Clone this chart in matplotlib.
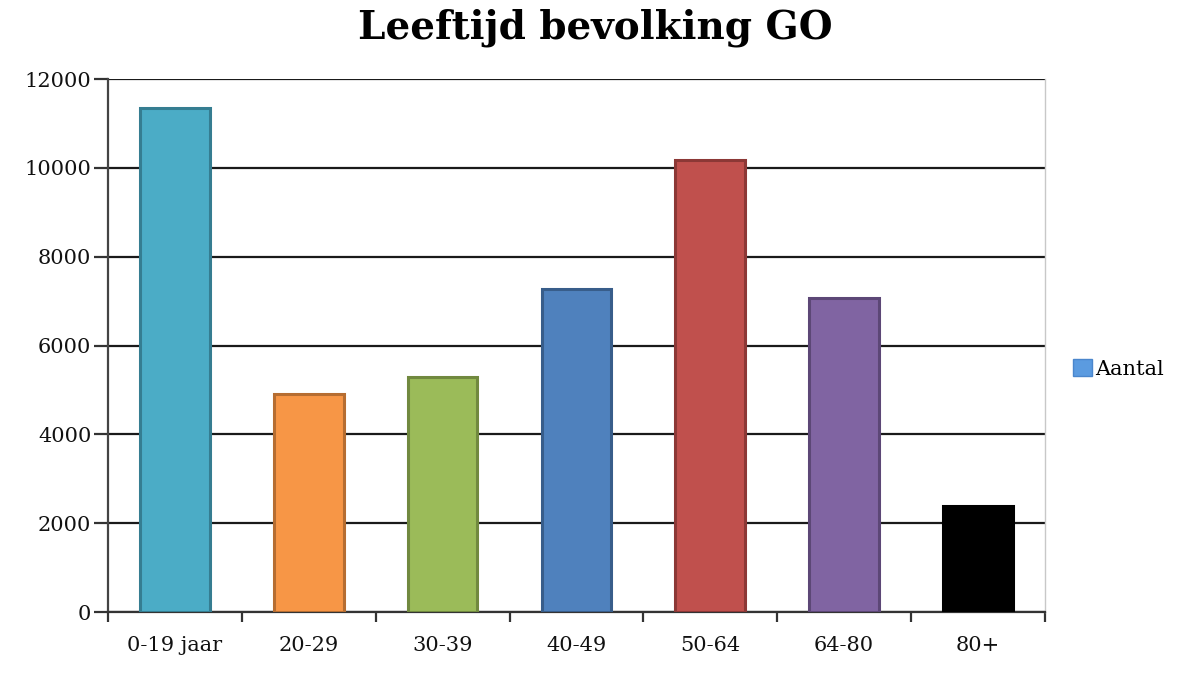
import matplotlib
matplotlib.use("Agg")
import matplotlib.pyplot as plt
from matplotlib.patches import Patch

# data
groups = ["0-19 jaar", "20-29", "30-39", "40-49", "50-64", "64-80", "80+"]
aantal = [11350, 4900, 5300, 7280, 10180, 7070, 2400]
fills = ["#4bacc6", "#f79646", "#9bbb59", "#4f81bd", "#c0504d", "#8064a2", "#000000"]
edges = ["#357d91", "#b66d31", "#71893f", "#385d8a", "#8c3836", "#5c4776", "#000000"]
yticks = [0, 2000, 4000, 6000, 8000, 10000, 12000]

plt.rcParams["font.family"] = ["DejaVu Serif"]

fig = plt.figure(figsize=(11.9, 6.84), dpi=100)
ax = fig.add_axes([0.0908, 0.105, 0.7872, 0.7795])

x = list(range(len(groups)))
ax.bar(x, aantal, width=0.52, color=fills, edgecolor=edges, linewidth=2.2, zorder=3)

ax.set_xlim(-0.5, len(groups) - 0.5)
ax.set_ylim(0, 12000)
ax.set_yticks(yticks)
ax.set_yticklabels([str(v) for v in yticks], fontsize=15, color="#111111")
ax.yaxis.grid(True, color="#1a1a1a", linewidth=1.6, zorder=0)
ax.set_axisbelow(True)

# category labels centred, ticks on the boundaries
ax.set_xticks(x)
ax.set_xticklabels(groups, fontsize=15, color="#111111")
ax.tick_params(axis="x", which="major", length=0, pad=17)
ax.set_xticks([i - 0.5 for i in range(len(groups) + 1)], minor=True)
ax.tick_params(axis="x", which="minor", length=7, width=1.6, color="#333333")
ax.tick_params(axis="y", length=10, width=1.6, color="#333333", pad=2)

ax.spines["top"].set_visible(False)
ax.spines["right"].set_color("#c8c8c8")
ax.spines["right"].set_linewidth(1.0)
ax.spines["left"].set_color("#444444")
ax.spines["left"].set_linewidth(1.6)
ax.spines["bottom"].set_color("#333333")
ax.spines["bottom"].set_linewidth(1.6)

fig.suptitle("Leeftijd bevolking GO", fontsize=28, fontweight="bold", y=0.987)

leg = fig.legend(handles=[Patch(facecolor="#5b9be0", edgecolor="#4a86cc", label="Aantal")],
                 loc="center left", bbox_to_anchor=(0.886, 0.461), frameon=False,
                 fontsize=15, handlelength=0.9, handleheight=0.9, handletextpad=0.15)

fig.savefig("out.png", dpi=100)
